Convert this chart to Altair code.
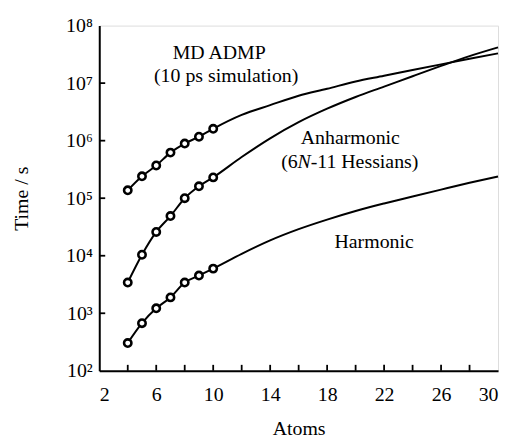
import altair as alt
import pandas as pd

# ---- data ----
atoms_pts = [4, 5, 6, 7, 8, 9, 10]
md_pts = [1.37e5, 2.4e5, 3.7e5, 6.2e5, 8.9e5, 1.17e6, 1.61e6]
anh_pts = [3.42e3, 1.04e4, 2.59e4, 4.90e4, 1.0e5, 1.61e5, 2.30e5]
harm_pts = [304, 673, 1219, 1888, 3420, 4519, 5970]

atoms_curve = [12, 14, 16, 18, 20, 22, 24, 26, 28, 30]
md_curve = [2.80e6, 4.14e6, 6.04e6, 7.98e6, 1.07e7, 1.34e7, 1.69e7, 2.12e7, 2.65e7, 3.29e7]
anh_curve = [5.2e5, 1.1e6, 2.1e6, 3.6e6, 5.75e6, 8.7e6, 1.32e7, 1.99e7, 2.95e7, 4.18e7]
harm_curve = [1.08e4, 1.85e4, 2.9e4, 4.25e4, 6.0e4, 8.1e4, 1.07e5, 1.41e5, 1.85e5, 2.39e5]

series_names = ["MD", "Anharmonic", "Harmonic"]

x_label_values = [2, 6, 10, 14, 18, 22, 26, 30]
x_tick_values = [4, 6, 8, 10, 12, 14, 16, 18, 20, 22, 24, 26, 28]
y_label_values = [1e2, 1e3, 1e4, 1e5, 1e6, 1e7, 1e8]
y_tick_values = [1e3, 1e4, 1e5, 1e6, 1e7]

label_text = ["MD ADMP", "(10 ps simulation)", "Anharmonic", "Harmonic"]
label_x = [10.42, 10.91, 19.63, 21.3]
label_y = [3.29e7, 1.32e7, 1.13e6, 1.74e4]

# "(6N-11 Hessians)" with italic N
hess_parts = ["(6", "N", "-11 Hessians)"]
hess_x = 16.39
hess_y = 4.18e5

FONT = "Liberation Serif, Times New Roman, Times, serif"

# ---- tables ----
line_rows = []
pt_rows = []
for name, pts, curve in zip(series_names, [md_pts, anh_pts, harm_pts], [md_curve, anh_curve, harm_curve]):
    for a, v in zip(atoms_pts + atoms_curve, pts + curve):
        line_rows.append({"series": name, "atoms": a, "time": v})
    for a, v in zip(atoms_pts, pts):
        pt_rows.append({"series": name, "atoms": a, "time": v})
lines_df = pd.DataFrame(line_rows)
pts_df = pd.DataFrame(pt_rows)
labels_df = pd.DataFrame({"text": label_text, "atoms": label_x, "time": label_y})
xt_df = pd.DataFrame({"atoms": x_tick_values})
yt_df = pd.DataFrame({"time": y_tick_values})
hess_df = pd.DataFrame({"atoms": [hess_x], "time": [hess_y]})

xscale = alt.Scale(domain=[2, 30], nice=False, zero=False)
yscale = alt.Scale(type="log", domain=[1e2, 1e8], nice=False)

x_enc = alt.X(
    "atoms:Q", scale=xscale,
    axis=alt.Axis(values=x_label_values, ticks=False, grid=False, domain=True,
                  domainColor="black", domainWidth=2,
                  title="Atoms", labelFont=FONT, labelFontSize=20, labelColor="black",
                  labelPadding=14, titleFont=FONT, titleFontSize=20, titleFontWeight="normal",
                  titleColor="black", titlePadding=14),
)
y_enc = alt.Y(
    "time:Q", scale=yscale,
    axis=alt.Axis(values=y_label_values, ticks=False, grid=False, domain=True,
                  domainColor="black", domainWidth=2,
                  title="Time / s", labelFont=FONT, labelFontSize=20, labelColor="black",
                  labelPadding=7,
                  labelExpr="'10' + ['⁰','¹','²','³','⁴','⁵','⁶','⁷','⁸'][round(log(datum.value)/LN10)]",
                  titleFont=FONT, titleFontSize=20, titleFontWeight="normal",
                  titleColor="black", titlePadding=34),
)

lines = alt.Chart(lines_df).mark_line(color="black", strokeWidth=2, interpolate="monotone").encode(
    x=x_enc, y=y_enc, detail="series:N"
)
points = alt.Chart(pts_df).mark_point(shape="circle", filled=True, fill="white", stroke="black",
                                      strokeWidth=2.6, size=55, opacity=1).encode(
    x=alt.X("atoms:Q", scale=xscale), y=alt.Y("time:Q", scale=yscale)
)
labels = alt.Chart(labels_df).mark_text(font=FONT, fontSize=20, color="black", align="center",
                                        baseline="middle").encode(
    x=alt.X("atoms:Q", scale=xscale), y=alt.Y("time:Q", scale=yscale), text="text:N"
)
hess1 = alt.Chart(hess_df).mark_text(text=hess_parts[0], font=FONT, fontSize=20, color="black",
                                     align="right", baseline="middle", dx=-6.5).encode(
    x=alt.X("atoms:Q", scale=xscale), y=alt.Y("time:Q", scale=yscale))
hess2 = alt.Chart(hess_df).mark_text(text=hess_parts[1], font=FONT, fontSize=20, fontStyle="italic",
                                     color="black", align="center", baseline="middle").encode(
    x=alt.X("atoms:Q", scale=xscale), y=alt.Y("time:Q", scale=yscale))
hess3 = alt.Chart(hess_df).mark_text(text=hess_parts[2], font=FONT, fontSize=20, color="black",
                                     align="left", baseline="middle", dx=6.5).encode(
    x=alt.X("atoms:Q", scale=xscale), y=alt.Y("time:Q", scale=yscale))

xticks = alt.Chart(xt_df).mark_rule(color="black", strokeWidth=1.8).encode(
    x=alt.X("atoms:Q", scale=xscale), y=alt.value(348), y2=alt.value(342))
yticks = alt.Chart(yt_df).mark_rule(color="black", strokeWidth=1.8).encode(
    y=alt.Y("time:Q", scale=yscale), x=alt.value(0), x2=alt.value(6))

chart = alt.layer(lines, points, labels, hess1, hess2, hess3, xticks, yticks).properties(
    width=402, height=348,
    autosize=alt.AutoSizeParams(type="none"),
    padding={"left": 92, "top": 16, "right": 4, "bottom": 66},
).configure_view(stroke="black", strokeWidth=2).configure(background="white")

chart.save("out.html", embed_options={"renderer": "svg", "actions": False})
